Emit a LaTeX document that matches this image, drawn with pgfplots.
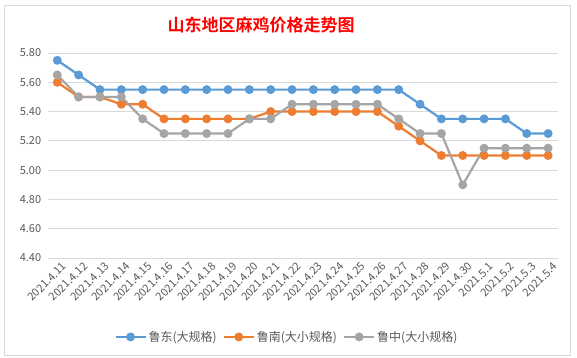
\documentclass[border=0pt]{standalone}
\usepackage{pgfplots}
\pgfplotsset{compat=1.18}
\usepackage{fontspec}
\setmainfont{Noto Sans CJK SC}
\newfontfamily\cjkb{Noto Sans CJK SC Bold}
\definecolor{cblue}{HTML}{5B9BD5}
\definecolor{corange}{HTML}{ED7D31}
\definecolor{cgray}{HTML}{A5A5A5}
\definecolor{tgray}{HTML}{595959}
\definecolor{ggray}{HTML}{D9D9D9}
\begin{document}
\begin{tikzpicture}
\useasboundingbox (0,0) rectangle (577bp,358bp);
\fill[white] (0,0) rectangle (577bp,358bp);
\draw[ggray,line width=0.6bp] (4bp,3bp) rectangle (570bp,353bp);
\node[text=red,font=\cjkb\fontsize{17bp}{20bp}\selectfont] at (261bp,333bp) {山东地区麻鸡价格走势图};
\begin{axis}[
  at={(47.7bp,100bp)}, anchor=south west,
  scale only axis, width=510bp, height=205bp,
  xmin=-0.45, xmax=23.45, ymin=4.4, ymax=5.8,
  ytick={4.4,4.6,4.8,5.0,5.2,5.4,5.6,5.8},
  xtick={0,...,23},
  xticklabels={2021.4.11,2021.4.12,2021.4.13,2021.4.14,2021.4.15,2021.4.16,2021.4.17,2021.4.18,2021.4.19,2021.4.20,2021.4.21,2021.4.22,2021.4.23,2021.4.24,2021.4.25,2021.4.26,2021.4.27,2021.4.28,2021.4.29,2021.4.30,2021.5.1,2021.5.2,2021.5.3,2021.5.4},
  axis line style={draw=none},
  major tick length=0pt,
  ymajorgrids, grid style={ggray,line width=0.75bp},
  /pgf/number format/assume math mode=true,
  yticklabel style={/pgf/number format/.cd,fixed,fixed zerofill,precision=2,/tikz/.cd, text=tgray, font=\fontsize{11bp}{13bp}\selectfont, xshift=-3bp},
  xticklabel style={rotate=45, anchor=north east, text=tgray, font=\fontsize{11bp}{13bp}\selectfont, xshift=4bp, yshift=-2bp},
  legend columns=3,
  legend style={draw=none, at={(0.469,-0.385)}, anchor=center, font=\fontsize{12bp}{14bp}\selectfont, text=tgray, /tikz/every even column/.append style={column sep=4bp}},
  legend image code/.code={\draw[mark repeat=2,mark phase=2] plot coordinates {(0bp,0bp)(15bp,0bp)(30bp,0bp)};},
  every axis plot/.append style={line width=2.2bp, mark=*, mark size=3.3bp},
]
\addplot[cblue, mark options={fill=cblue,draw=cblue}] coordinates {
(0,5.75)(1,5.65)(2,5.55)(3,5.55)(4,5.55)(5,5.55)(6,5.55)(7,5.55)(8,5.55)(9,5.55)(10,5.55)(11,5.55)(12,5.55)(13,5.55)(14,5.55)(15,5.55)(16,5.55)(17,5.45)(18,5.35)(19,5.35)(20,5.35)(21,5.35)(22,5.25)(23,5.25)};
\addlegendentry{鲁东(大规格)}
\addplot[corange, mark options={fill=corange,draw=corange}] coordinates {
(0,5.60)(1,5.50)(2,5.50)(3,5.45)(4,5.45)(5,5.35)(6,5.35)(7,5.35)(8,5.35)(9,5.35)(10,5.40)(11,5.40)(12,5.40)(13,5.40)(14,5.40)(15,5.40)(16,5.30)(17,5.20)(18,5.10)(19,5.10)(20,5.10)(21,5.10)(22,5.10)(23,5.10)};
\addlegendentry{鲁南(大小规格)}
\addplot[cgray, mark options={fill=cgray,draw=cgray}] coordinates {
(0,5.65)(1,5.50)(2,5.50)(3,5.50)(4,5.35)(5,5.25)(6,5.25)(7,5.25)(8,5.25)(9,5.35)(10,5.35)(11,5.45)(12,5.45)(13,5.45)(14,5.45)(15,5.45)(16,5.35)(17,5.25)(18,5.25)(19,4.90)(20,5.15)(21,5.15)(22,5.15)(23,5.15)};
\addlegendentry{鲁中(大小规格)}
\end{axis}
\end{tikzpicture}
\end{document}
